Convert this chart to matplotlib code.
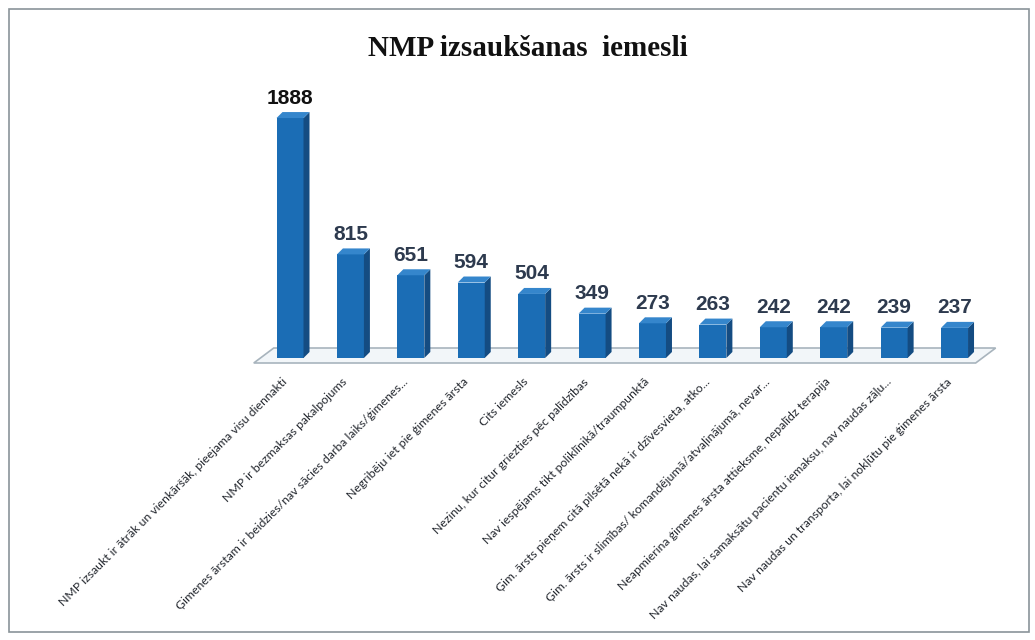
import matplotlib.pyplot as plt
from matplotlib.patches import Polygon, Rectangle

reasons = [
    'NMP izsaukt ir ātrāk un vienkāršāk, pieejama visu diennakti',
    'NMP ir bezmaksas pakalpojums',
    'Ģimenes ārstam ir beidzies/nav sācies darba laiks/ģimenes...',
    'Negribēju iet pie ģimenes ārsta',
    'Cits iemesls',
    'Nezinu, kur citur griezties pēc palīdzības',
    'Nav iespējams tikt poliklīnikā/traumpunktā',
    'Ģim. ārsts pieņem citā pilsētā nekā ir dzīvesvieta, atko...',
    'Ģim. ārsts ir slimības/ komandējumā/atvaļinājumā, nevar...',
    'Neapmierina ģimenes ārsta attieksme, nepalīdz terapija',
    'Nav naudas, lai samaksātu pacientu iemaksu, nav naudas zāļu...',
    'Nav naudas un transporta, lai nokļūtu pie ģimenes ārsta',
]
counts = [1888, 815, 651, 594, 504, 349, 273, 263, 242, 242, 239, 237]

front_col = '#1b6db5'
side_col = '#144c82'
top_col = '#3586cc'

fig = plt.figure(figsize=(10.35, 6.4), dpi=100)
# frame around the picture
fig.patches.append(Rectangle((9 / 1035, 8 / 640), 1020 / 1035, 623 / 640,
                             transform=fig.transFigure, fill=False,
                             edgecolor='#8a9499', linewidth=1.2))

ax = fig.add_axes([245 / 1035, 282 / 640, 750 / 1035, 279.6 / 640])
ax.set_xlim(-0.745, 11.67)
ax.set_ylim(0, 2200)
ax.axis('off')

px_x = 60.4     # pixels per category
px_y = 0.1271   # pixels per unit
w = 27 / px_x
dx = 6 / px_x
dy = 6 / px_y

# floor
fx0, fx1 = -0.6, 11.35
fdx = 20 / px_x
fy0, fy1 = -5 / px_y, 10 / px_y
ax.add_patch(Polygon([(fx0, fy0), (fx1, fy0), (fx1 + fdx, fy1), (fx0 + fdx, fy1)],
                     closed=True, facecolor='#f2f6f9', edgecolor='#a8b4bd',
                     linewidth=1.2, clip_on=False, zorder=1))

for i, v in enumerate(counts):
    x0 = i - w / 2
    ax.bar(i, v, width=w, color=front_col, zorder=3, clip_on=False)
    ax.add_patch(Polygon([(x0 + w, 0), (x0 + w + dx, dy), (x0 + w + dx, v + dy), (x0 + w, v)],
                         closed=True, facecolor=side_col, edgecolor='none', zorder=3, clip_on=False))
    ax.add_patch(Polygon([(x0, v), (x0 + w, v), (x0 + w + dx, v + dy), (x0 + dx, v + dy)],
                         closed=True, facecolor=top_col, edgecolor='none', zorder=3, clip_on=False))
    ax.text(i, v + 20 / px_y, str(v), ha='center', va='center', fontsize=15,
            fontweight='bold', family='Liberation Sans',
            color='#111111' if i == 0 else '#2d3a4e', zorder=4)

for i, lab in enumerate(reasons):
    ax.text(i - 0.08, -22 / px_y, lab, rotation=45, rotation_mode='anchor',
            ha='right', va='center', fontsize=8.8, family='Lato',
            color='#23272e')

fig.text(528 / 1035, 1 - 48 / 640, 'NMP izsaukšanas  iemesli', ha='center', va='center',
         fontsize=21, fontweight='bold', family='Liberation Serif', color='#111111')

fig.savefig('out.png', dpi=100)
